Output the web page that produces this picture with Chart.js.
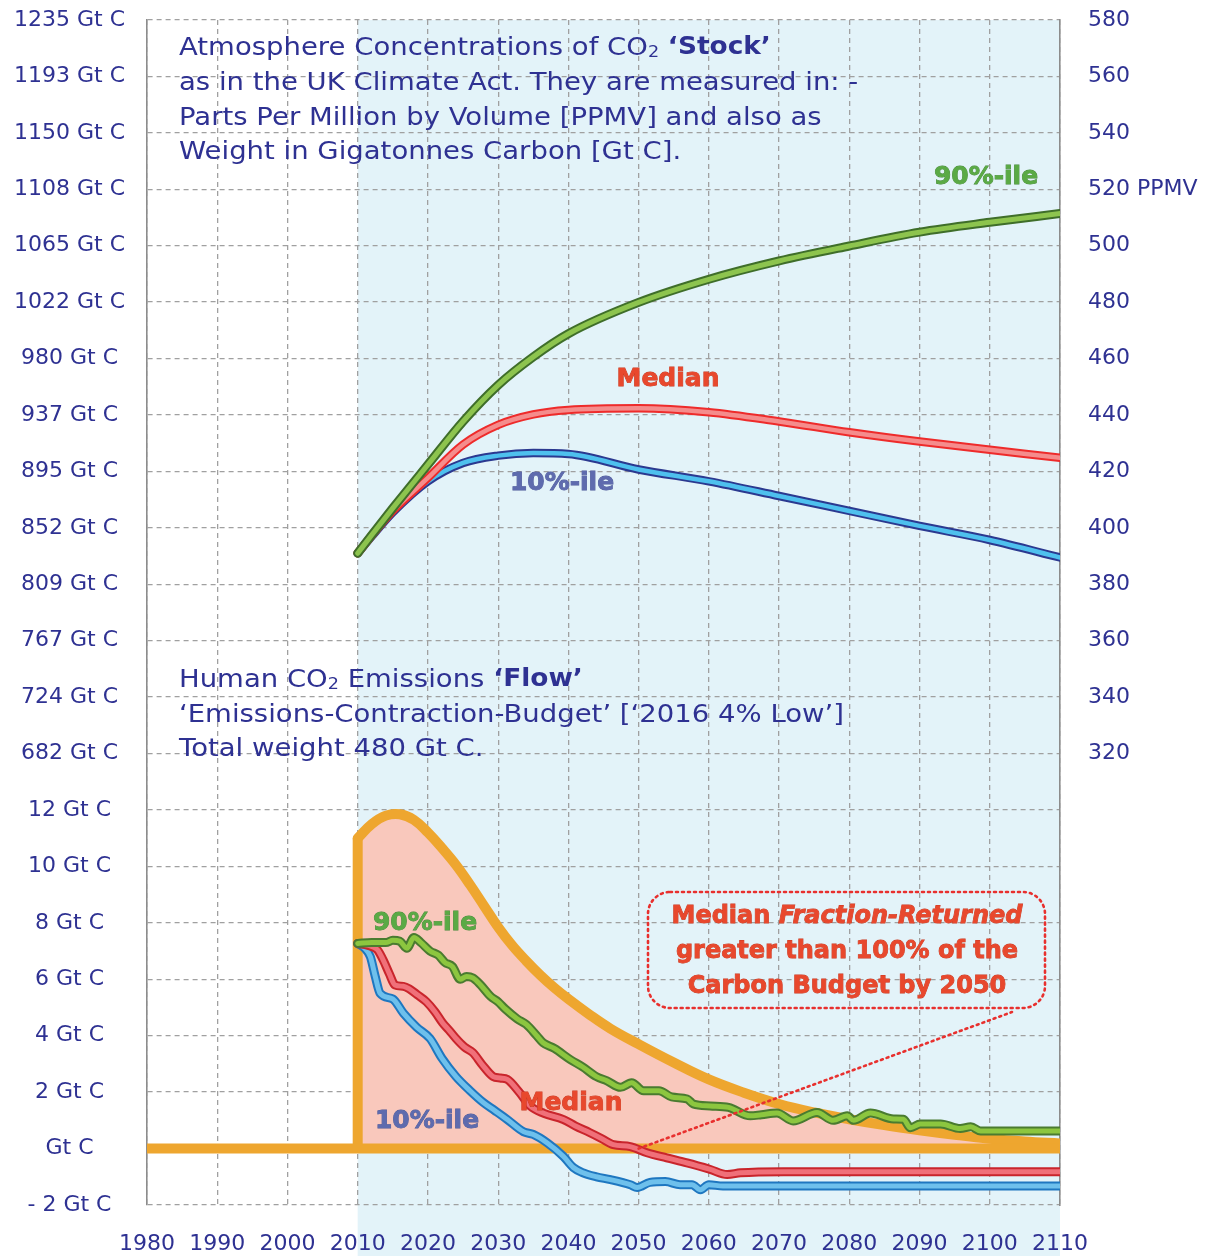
<!DOCTYPE html>
<html>
<head>
<meta charset="utf-8">
<script src="https://cdn.jsdelivr.net/npm/chart.js@4.4.1/dist/chart.umd.min.js"></script>
<style>
  html, body { margin: 0; padding: 0; background: #ffffff; }
  canvas { display: block; }
</style>
</head>
<body>
<canvas id="co2Chart" width="1214" height="1256"></canvas>
<script>
// tick labels
const decadeLabels = ["1980", "1990", "2000", "2010", "2020", "2030", "2040", "2050", "2060", "2070", "2080", "2090", "2100", "2110"];
const stockGtLabels = ["1235 Gt C", "1193 Gt C", "1150 Gt C", "1108 Gt C", "1065 Gt C", "1022 Gt C", "980 Gt C",
  "937 Gt C", "895 Gt C", "852 Gt C", "809 Gt C", "767 Gt C", "724 Gt C", "682 Gt C"];
const flowGtLabels = ["12 Gt C", "10 Gt C", "8 Gt C", "6 Gt C", "4 Gt C", "2 Gt C", "Gt C", "- 2 Gt C"];
const ppmvLabels = ["580", "560", "540", "520 PPMV", "500", "480", "460", "440", "420", "400", "380", "360", "340", "320"];

// atmosphere 'stock' (PPMV)
const stockYears = [2010, 2012, 2015, 2020, 2025, 2030, 2035, 2040, 2050, 2060, 2070, 2080, 2090, 2100, 2110];
const stock90 = [391, 397.5, 407, 422.4, 437.7, 450.6, 460.6, 468.8, 479.9, 488.1, 494.6, 499.9, 504.8, 508.3, 511.4];
const stockMedian = [391, 397.3, 406, 417.7, 429.5, 436.5, 440.2, 441.8, 442.4, 441.0, 437.7, 433.9, 430.6, 427.7, 424.8];
const stock10 = [391, 397, 405.5, 416.5, 423.0, 425.6, 426.5, 426.2, 420.7, 416.5, 411.3, 406.0, 400.7, 395.7, 389.5];

// emissions 'flow' (Gt C per year)
const budgetYears = [2010, 2012, 2014, 2016, 2018, 2020, 2022, 2024, 2026, 2028, 2030, 2032, 2034, 2036, 2038,
  2040, 2043, 2046, 2050, 2055, 2060, 2065, 2070, 2075, 2080, 2085, 2090, 2095, 2100, 2105, 2110];
const budgetGt = [11.0, 11.5, 11.8, 11.85, 11.65, 11.2, 10.65, 10.05, 9.35, 8.6, 7.85, 7.2, 6.65, 6.15, 5.7,
  5.3, 4.75, 4.25, 3.7, 3.05, 2.45, 1.98, 1.58, 1.28, 1.04, 0.83, 0.65, 0.49, 0.35, 0.25, 0.18];
const budgetEdgeYears = [2010, 2010];
const budgetEdgeGt = [0, 11.0];
const baseYears = [1980, 2110];
const baseGt = [0, 0];

const flow90Years = [2010, 2012, 2014, 2015, 2016, 2017, 2018, 2019, 2020.3, 2021.5, 2022.4, 2023.5, 2024.6, 2025.5,
  2026.4, 2027.5, 2028.9, 2030, 2031, 2032.7, 2034, 2035.5, 2036.4, 2038, 2040.3, 2042, 2044, 2045.5, 2047.4, 2049,
  2050.7, 2052.9, 2054.7, 2056.9, 2057.8, 2060.2, 2062.8, 2065.9, 2067.5, 2069.7, 2072, 2075.4, 2077.7, 2079.7,
  2080.6, 2083, 2086.3, 2087.7, 2088.7, 2090.1, 2093, 2095.8, 2097.3, 2098.7, 2110];
const flow90 = [7.27, 7.3, 7.3, 7.38, 7.35, 7.1, 7.48, 7.3, 7.0, 6.85, 6.6, 6.45, 6.0, 6.1,
  6.05, 5.8, 5.4, 5.2, 4.95, 4.6, 4.4, 4.0, 3.75, 3.55, 3.15, 2.9, 2.55, 2.4, 2.17, 2.33,
  2.05, 2.05, 1.83, 1.76, 1.58, 1.51, 1.46, 1.16, 1.2, 1.26, 0.98, 1.28, 1.0, 1.16,
  1.0, 1.26, 1.05, 1.04, 0.74, 0.87, 0.87, 0.71, 0.77, 0.62, 0.62];

const flowMedianYears = [2010, 2011.5, 2012.8, 2013.6, 2014.5, 2015.3, 2016.5, 2017.4, 2018.5, 2019.8, 2021, 2022.1,
  2023, 2024, 2025.2, 2026.4, 2027.8, 2029.3, 2030.3, 2031.3, 2033, 2034.6, 2036.5, 2039.3, 2041, 2043, 2044.7,
  2046.4, 2048.8, 2051.2, 2054, 2056.9, 2060.2, 2062.6, 2064.5, 2070.6, 2110];
const flowMedian = [7.27, 7.2, 7.05, 6.7, 6.2, 5.8, 5.75, 5.65, 5.45, 5.2, 4.85, 4.45,
  4.2, 3.9, 3.6, 3.4, 2.95, 2.55, 2.5, 2.45, 2.0, 1.5, 1.25, 1.03, 0.8, 0.57, 0.36,
  0.14, 0.07, -0.15, -0.33, -0.51, -0.74, -0.92, -0.86, -0.82, -0.82];

const flow10Years = [2010, 2011, 2011.8, 2012.5, 2013.2, 2015, 2016.5, 2018.4, 2020.3, 2022, 2024, 2026, 2027.9,
  2029.5, 2031.3, 2033.6, 2035, 2037, 2039.3, 2040.7, 2042, 2044, 2046, 2048.8, 2049.8, 2051.6, 2053.8, 2055.9,
  2057.6, 2058.8, 2060, 2062, 2110];
const flow10 = [7.27, 7.1, 6.8, 6.1, 5.5, 5.3, 4.8, 4.3, 3.9, 3.2, 2.55, 2.05, 1.63,
  1.35, 1.03, 0.6, 0.5, 0.2, -0.28, -0.67, -0.85, -1.0, -1.1, -1.28, -1.38, -1.2, -1.17, -1.28,
  -1.28, -1.46, -1.28, -1.33, -1.33];

const navy = "#2E3192";
const orange = "#EEA62F";
const fontFamily = "'DejaVu Sans', sans-serif";

function points(xs, ys) {
  return xs.map((x, i) => ({ x: x, y: ys[i] }));
}

function line(label, xs, ys, axis, color, width, order) {
  return {
    label: label,
    data: points(xs, ys),
    yAxisID: axis,
    borderColor: color,
    borderWidth: width,
    borderCapStyle: "round",
    borderJoinStyle: "round",
    pointRadius: 0,
    fill: false,
    cubicInterpolationMode: "monotone",
    order: order
  };
}

const datasets = [
  {
    label: "Budget",
    data: points(budgetYears, budgetGt),
    yAxisID: "yFlow",
    borderColor: orange,
    backgroundColor: "#F9C8BC",
    borderWidth: 10,
    borderCapStyle: "round",
    pointRadius: 0,
    fill: "origin",
    tension: 0.4,
    order: 30
  },
  {
    label: "Budget edge",
    data: points(budgetEdgeYears, budgetEdgeGt),
    yAxisID: "yFlow",
    borderColor: orange,
    borderWidth: 10,
    borderCapStyle: "butt",
    pointRadius: 0,
    fill: false,
    order: 29
  },
  {
    label: "Zero",
    data: points(baseYears, baseGt),
    yAxisID: "yFlow",
    borderColor: orange,
    borderWidth: 10,
    borderCapStyle: "butt",
    pointRadius: 0,
    fill: false,
    order: 28
  },
  line("10%-ile flow", flow10Years, flow10, "yFlow", "#1F77C0", 9, 20),
  line("10%-ile flow inner", flow10Years, flow10, "yFlow", "#6EC0EC", 5, 19),
  line("Median flow", flowMedianYears, flowMedian, "yFlow", "#C9252C", 9, 18),
  line("Median flow inner", flowMedianYears, flowMedian, "yFlow", "#F07079", 5, 17),
  line("90%-ile flow", flow90Years, flow90, "yFlow", "#4A7B30", 9, 16),
  line("90%-ile flow inner", flow90Years, flow90, "yFlow", "#8CC63F", 5, 15),
  line("10%-ile", stockYears, stock10, "y", "#2B3990", 8.5, 10),
  line("10%-ile inner", stockYears, stock10, "y", "#4EC0EE", 4.5, 9),
  line("Median", stockYears, stockMedian, "y", "#EE2B2B", 8.5, 8),
  line("Median inner", stockYears, stockMedian, "y", "#F58C8C", 4.5, 7),
  line("90%-ile", stockYears, stock90, "y", "#3F6E2A", 9, 6),
  line("90%-ile inner", stockYears, stock90, "y", "#8DC44E", 5, 5)
];

// light blue band behind the projection years
const bandPlugin = {
  id: "band",
  beforeDraw(chart) {
    const { ctx, chartArea, scales } = chart;
    const x0 = scales.x.getPixelForValue(2010);
    const x1 = scales.x.getPixelForValue(2110);
    ctx.save();
    ctx.fillStyle = "#E3F3F9";
    ctx.fillRect(x0, chartArea.top, x1 - x0, chart.height - chartArea.top);
    ctx.restore();
  }
};

// draws runs of text in a row, optionally stretched sideways by sx
function drawRuns(ctx, runs, x, y, align, sx) {
  sx = sx || 1;
  let total = 0;
  runs.forEach(r => {
    ctx.font = r.font;
    total += ctx.measureText(r.text).width;
  });
  const start = align === "center" ? x - total * sx / 2 : x;
  ctx.save();
  ctx.translate(start, y);
  ctx.scale(sx, 1);
  let cx = 0;
  runs.forEach(r => {
    ctx.font = r.font;
    ctx.textAlign = "left";
    ctx.textBaseline = "middle";
    if (r.stroke) {
      ctx.lineWidth = 0.8;
      ctx.strokeStyle = r.stroke;
      ctx.strokeText(r.text, cx, r.dy || 0);
    }
    ctx.fillStyle = r.color;
    ctx.fillText(r.text, cx, r.dy || 0);
    cx += ctx.measureText(r.text).width;
  });
  ctx.restore();
}

const textPlugin = {
  id: "texts",
  afterDatasetsDraw(chart) {
    const { ctx, scales } = chart;
    const reg = "25px " + fontFamily;
    const bold = "bold 24px " + fontFamily;
    const sub = "16px " + fontFamily;
    const sx = 1.1;
    ctx.save();

    // stock heading
    drawRuns(ctx, [
      { text: "Atmosphere Concentrations of CO", font: reg, color: navy },
      { text: "2", font: sub, color: navy, dy: 5 },
      { text: " ", font: reg, color: navy },
      { text: "\u2018Stock\u2019", font: bold, color: navy }
    ], 179, 48, "left", sx);
    drawRuns(ctx, [{ text: "as in the UK Climate Act. They are measured in: -", font: reg, color: navy }], 179, 83, "left", sx);
    drawRuns(ctx, [{ text: "Parts Per Million by Volume [PPMV] and also as", font: reg, color: navy }], 179, 118, "left", sx);
    drawRuns(ctx, [{ text: "Weight in Gigatonnes Carbon [Gt C].", font: reg, color: navy }], 179, 152, "left", sx);

    // flow heading
    drawRuns(ctx, [
      { text: "Human CO", font: reg, color: navy },
      { text: "2", font: sub, color: navy, dy: 5 },
      { text: " Emissions ", font: reg, color: navy },
      { text: "\u2018Flow\u2019", font: bold, color: navy }
    ], 179, 680, "left", sx);
    drawRuns(ctx, [{ text: "\u2018Emissions-Contraction-Budget\u2019 [\u20182016 4% Low\u2019]", font: reg, color: navy }], 179, 715, "left", sx);
    drawRuns(ctx, [{ text: "Total weight 480 Gt C.", font: reg, color: navy }], 179, 749, "left", sx);

    // series labels
    const lab = "bold 24px " + fontFamily;
    const green = { color: "#5AAA45", stroke: "#46883A" };
    const red = { color: "#E8482D", stroke: "#C83A22" };
    const blue = { color: "#5E6BAE", stroke: "#4C5898" };
    const put = (t, c, x, y) => drawRuns(ctx, [{ text: t, font: lab, color: c.color, stroke: c.stroke }], x, y, "center", 1.04);
    put("90%-ile", green, 986, 178);
    put("Median", red, 668, 380);
    put("10%-ile", blue, 562, 484);
    put("90%-ile", green, 425, 924);
    put("Median", red, 571, 1104);
    put("10%-ile", blue, 427, 1122);

    // call-out box and leader
    const bx = 648, by = 892, bw = 397, bh = 116, rr = 22;
    ctx.setLineDash([2, 4]);
    ctx.lineCap = "round";
    ctx.lineWidth = 2.6;
    ctx.strokeStyle = "#E8302E";
    ctx.beginPath();
    ctx.roundRect(bx, by, bw, bh, rr);
    ctx.stroke();
    ctx.beginPath();
    ctx.moveTo(scales.x.getPixelForValue(2050), scales.yFlow.getPixelForValue(0));
    ctx.lineTo(1012, 1012);
    ctx.stroke();
    ctx.setLineDash([]);

    const boxFont = "bold 24px " + fontFamily;
    const boxFontIt = "italic bold 24px " + fontFamily;
    drawRuns(ctx, [
      { text: "Median ", font: boxFont, color: red.color, stroke: red.stroke },
      { text: "Fraction-Returned", font: boxFontIt, color: red.color, stroke: red.stroke }
    ], 847, 917, "center");
    drawRuns(ctx, [{ text: "greater than 100% of the", font: boxFont, color: red.color, stroke: red.stroke }], 847, 952, "center");
    drawRuns(ctx, [{ text: "Carbon Budget by 2050", font: boxFont, color: red.color, stroke: red.stroke }], 847, 987, "center");

    ctx.restore();
  }
};

// keep the plot box at the reference position
function fixVertical(width) {
  return function (scale) {
    scale.width = width;
    scale.paddingTop = 20;
    scale.paddingBottom = 0;
  };
}

Chart.defaults.font.family = fontFamily;
Chart.defaults.color = navy;

const ctx = document.getElementById("co2Chart").getContext("2d");

new Chart(ctx, {
  type: "line",
  data: { datasets: datasets },
  options: {
    responsive: false,
    animation: false,
    events: [],
    layout: { padding: 0 },
    plugins: {
      legend: { display: false },
      tooltip: { enabled: false }
    },
    scales: {
      x: {
        type: "linear",
        min: 1980,
        max: 2110,
        ticks: {
          stepSize: 10,
          padding: 26,
          font: { size: 22 },
          color: navy,
          maxRotation: 0,
          callback: (value, index) => decadeLabels[index]
        },
        grid: { color: "#A0A0A0", lineWidth: 1.3, drawTicks: false },
        border: { display: false, dash: [5, 4] },
        afterFit(scale) {
          scale.height = 51;
          scale.paddingLeft = 0;
          scale.paddingRight = 0;
        }
      },
      y: {
        position: "left",
        min: 160,
        max: 580,
        ticks: {
          stepSize: 20,
          padding: 22,
          crossAlign: "center",
          font: { size: 22 },
          color: navy,
          callback: (value) => {
            const i = Math.round((580 - value) / 20);
            return i < stockGtLabels.length ? stockGtLabels[i] : flowGtLabels[i - stockGtLabels.length];
          }
        },
        grid: { color: "#A0A0A0", lineWidth: 1.3, drawTicks: false },
        border: { display: true, color: "#8C8C8C", width: 1.6, dash: [5, 4] },
        afterFit: fixVertical(147)
      },
      y2: {
        position: "right",
        min: 160,
        max: 580,
        ticks: {
          stepSize: 20,
          padding: 28,
          font: { size: 22 },
          color: navy,
          callback: (value) => {
            const i = Math.round((580 - value) / 20);
            return i < ppmvLabels.length ? ppmvLabels[i] : "";
          }
        },
        grid: { display: false, drawTicks: false },
        border: { display: true, color: "#8C8C8C", width: 1.6 },
        afterFit: fixVertical(154)
      },
      yFlow: {
        display: false,
        min: -2,
        max: 40
      }
    }
  },
  plugins: [bandPlugin, textPlugin]
});
</script>
</body>
</html>
